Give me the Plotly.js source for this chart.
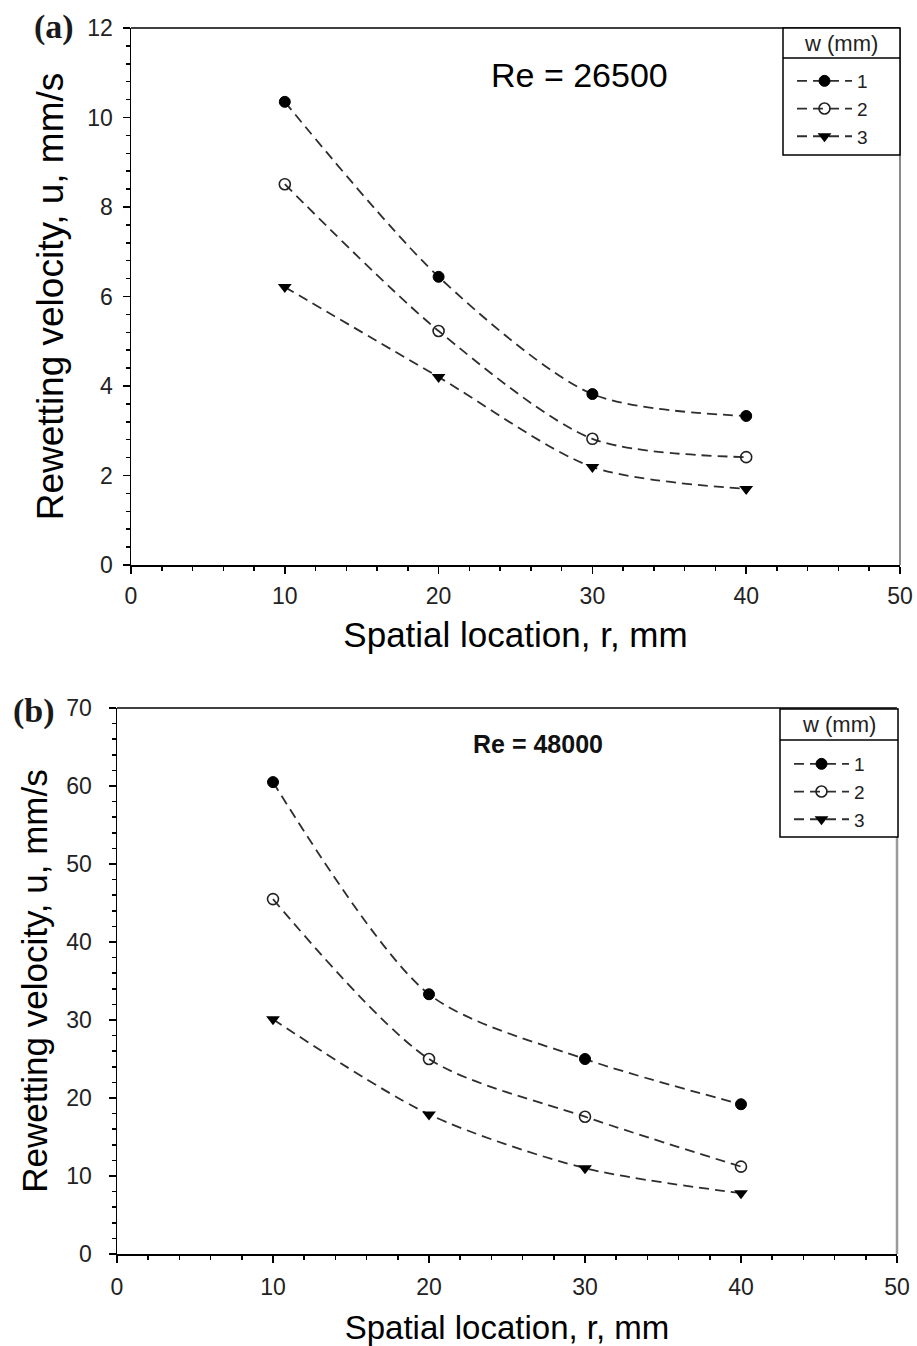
<!DOCTYPE html>
<html>
<head>
<meta charset="utf-8">
<script src="https://cdn.plot.ly/plotly-3.0.1.min.js"></script>
<style>html,body{margin:0;padding:0;background:#fff;}#chart{width:917px;height:1346px;}</style>
</head>
<body>
<div id="chart"></div>
<script>
// ---- data ----
const r = [10, 20, 30, 40];
const widths = ['1', '2', '3'];
// (a) Re = 26500
const uA_w1 = [10.35, 6.44, 3.82, 3.33];
const uA_w2 = [8.51, 5.23, 2.82, 2.41];
const uA_w3 = [6.21, 4.20, 2.19, 1.70];
// (b) Re = 48000
const uB_w1 = [60.5, 33.3, 25.0, 19.2];
const uB_w2 = [45.5, 25.0, 17.6, 11.2];
const uB_w3 = [30.1, 17.9, 11.0, 7.8];

const xTitle = 'Spatial location, r, mm';
const yTitle = 'Rewetting velocity, u, mm/s';

const markerStyles = [
  {symbol: 'circle', size: 11, color: '#000', line: {color: '#000', width: 1}},
  {symbol: 'circle-open', size: 11, color: '#222', line: {color: '#222', width: 1.6}},
  {symbol: 'triangle-down', size: 12, color: '#000', line: {color: '#000', width: 0}}
];
const lineStyle = {color: '#2e2e2e', width: 1.8, dash: '10px,6px', shape: 'spline', smoothing: 0.8};

function mk(y, i, xa, ya, leg) {
  return {
    x: r, y: y, type: 'scatter', mode: 'lines+markers', name: widths[i],
    xaxis: xa, yaxis: ya, legend: leg,
    line: lineStyle, marker: markerStyles[i]
  };
}

const traces = [
  mk(uA_w1, 0, 'x', 'y', 'legend'),
  mk(uA_w2, 1, 'x', 'y', 'legend'),
  mk(uA_w3, 2, 'x', 'y', 'legend'),
  mk(uB_w1, 0, 'x2', 'y2', 'legend2'),
  mk(uB_w2, 1, 'x2', 'y2', 'legend2'),
  mk(uB_w3, 2, 'x2', 'y2', 'legend2')
];

const SANS = 'Liberation Sans, Arial, sans-serif';
function xAxis(domain, anchor, fs, tfs, standoff, lblOff) {
  return {
    domain: domain, anchor: anchor, range: [0, 50], dtick: 10, tick0: 0,
    ticks: 'outside', ticklen: 7, tickwidth: 1.5, tickcolor: '#000', ticklabelstandoff: lblOff,
    minor: {dtick: 2, ticks: 'outside', ticklen: 4, tickwidth: 1.5, tickcolor: '#000'},
    showline: true, linecolor: '#000', linewidth: 1.5, showgrid: false, zeroline: false,
    tickfont: {family: SANS, size: fs, color: '#222'},
    title: {text: xTitle, font: {family: SANS, size: tfs, color: '#000'}, standoff: standoff},
    fixedrange: true
  };
}
function yAxis(domain, anchor, range, dtick, minor, fs, tfs, standoff, lblOff) {
  return {
    domain: domain, anchor: anchor, range: range, dtick: dtick, tick0: 0,
    ticks: 'outside', ticklen: 7, tickwidth: 1.5, tickcolor: '#000', ticklabelstandoff: lblOff,
    minor: {dtick: minor, ticks: 'outside', ticklen: 4, tickwidth: 1.5, tickcolor: '#000'},
    showline: true, linecolor: '#000', linewidth: 1.5, showgrid: false, zeroline: false,
    tickfont: {family: SANS, size: fs, color: '#222'},
    title: {text: yTitle, font: {family: SANS, size: tfs, color: '#000'}, standoff: standoff},
    fixedrange: true
  };
}

const xdA = [131/917, 900/917], ydA = [1-565/1346, 1-28/1346];
const xdB = [117/917, 897/917], ydB = [1-1254/1346, 1-708/1346];

function legendBox(l, rgt, top, hdr, bot) {
  return [
    {type: 'rect', xref: 'paper', yref: 'paper', x0: l/917, x1: rgt/917, y0: 1-bot/1346, y1: 1-top/1346,
     line: {color: '#000', width: 1.5}, fillcolor: '#fff', layer: 'above'},
    {type: 'line', xref: 'paper', yref: 'paper', x0: l/917, x1: rgt/917, y0: 1-hdr/1346, y1: 1-hdr/1346,
     line: {color: '#000', width: 1.5}, layer: 'above'}
  ];
}

const shapes = [
  {type: 'line', xref: 'x domain', yref: 'y domain', x0: 0, x1: 1, y0: 1, y1: 1, line: {color: '#000', width: 1.5}, layer: 'above'},
  {type: 'line', xref: 'x2 domain', yref: 'y2 domain', x0: 0, x1: 1, y0: 1, y1: 1, line: {color: '#000', width: 1.5}, layer: 'above'},
  {type: 'line', xref: 'x domain', yref: 'y domain', x0: 1, x1: 1, y0: 0, y1: 1, line: {color: '#8a8a8a', width: 2}, layer: 'above'},
  {type: 'line', xref: 'x2 domain', yref: 'y2 domain', x0: 1, x1: 1, y0: 0, y1: 1, line: {color: '#9a9a9a', width: 2.5}, layer: 'above'}
].concat(legendBox(783, 900, 28, 58, 155)).concat(legendBox(780, 898, 709, 740, 837));

const annotations = [
  {text: '<b>(a)</b>', xref: 'paper', yref: 'paper', x: 54/917, y: 1-27/1346, xanchor: 'center', yanchor: 'middle', showarrow: false,
   font: {family: 'Liberation Serif, Times New Roman, serif', size: 34, color: '#1a1a1a'}},
  {text: '<b>(b)</b>', xref: 'paper', yref: 'paper', x: 34/917, y: 1-711/1346, xanchor: 'center', yanchor: 'middle', showarrow: false,
   font: {family: 'Liberation Serif, Times New Roman, serif', size: 34, color: '#1a1a1a'}},
  {text: 'Re = 26500', xref: 'paper', yref: 'paper', x: 579/917, y: 1-75/1346, xanchor: 'center', yanchor: 'middle', showarrow: false,
   font: {family: SANS, size: 34, color: '#000'}},
  {text: '<b>Re = 48000</b>', xref: 'paper', yref: 'paper', x: 538/917, y: 1-744/1346, xanchor: 'center', yanchor: 'middle', showarrow: false,
   font: {family: SANS, size: 25, color: '#111'}},
  {text: 'w (mm)', xref: 'paper', yref: 'paper', x: 841/917, y: 1-43/1346, xanchor: 'center', yanchor: 'middle', showarrow: false,
   font: {family: SANS, size: 22, color: '#222'}},
  {text: 'w (mm)', xref: 'paper', yref: 'paper', x: 839/917, y: 1-724/1346, xanchor: 'center', yanchor: 'middle', showarrow: false,
   font: {family: SANS, size: 22, color: '#222'}}
];

const legFont = {family: SANS, size: 19, color: '#222'};
const layout = {
  width: 917, height: 1346,
  margin: {l: 0, r: 0, t: 0, b: 0},
  paper_bgcolor: '#fff', plot_bgcolor: '#fff',
  showlegend: true,
  xaxis: xAxis(xdA, 'y', 23, 35, 14, 3),
  yaxis: yAxis(ydA, 'x', [0, 12], 2, 0.4, 23, 37, 12, 5),
  xaxis2: xAxis(xdB, 'y2', 23, 33, 18, 5),
  yaxis2: yAxis(ydB, 'x2', [0, 70], 10, 2, 23, 35, 8, 12),
  legend: {x: 792/917, y: 1-62/1346, xanchor: 'left', yanchor: 'top', bgcolor: 'rgba(0,0,0,0)', borderwidth: 0,
           font: legFont, tracegroupgap: 0, itemwidth: 55},
  legend2: {x: 789/917, y: 1-745/1346, xanchor: 'left', yanchor: 'top', bgcolor: 'rgba(0,0,0,0)', borderwidth: 0,
           font: legFont, tracegroupgap: 0, itemwidth: 55},
  shapes: shapes,
  annotations: annotations
};

Plotly.newPlot('chart', traces, layout, {displayModeBar: false, staticPlot: true});
</script>
</body>
</html>
